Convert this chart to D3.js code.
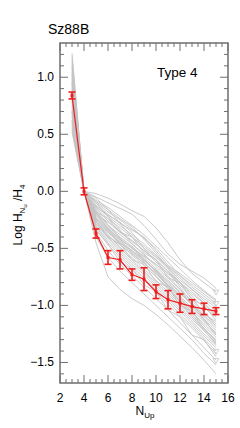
<!DOCTYPE html>
<html lang="en">
<head>
  <meta charset="UTF-8">
  <title>Sz88B Type 4</title>
  <style>
    body { margin: 0; background: #fff; }
    text { font-family: "Liberation Sans", Arial, sans-serif; fill: #000; }
    .tick-label { font-size: 12px; }
  </style>
</head>
<body>
  <svg width="240" height="428"></svg>
  <script src="https://d3js.org/d3.v7.min.js"></script>
  <script>
    const width = 240, height = 428;
    const margin = { top: 43, right: 12, bottom: 45, left: 60 };

    // upper level N for every point
    const nUp = [3, 4, 5, 6, 7, 8, 9, 10, 11, 12, 13, 14, 15];

    // mean curve for this type and its error bars
    const meanValues = [0.84, 0.00, -0.37, -0.58, -0.60, -0.73, -0.77, -0.88, -0.95, -0.98, -1.01, -1.03, -1.05];
    const meanErrors = [0.03, 0.03, 0.04, 0.06, 0.08, 0.05, 0.10, 0.06, 0.08, 0.08, 0.06, 0.05, 0.03];

    // individual decrements (grey lines), one row per spectrum
    const greyCurves = [
      [0.62, 0, -0.02, -0.06, -0.11, -0.17, -0.22, -0.32, -0.45, -0.60, -0.72, -0.80, -0.88],
      [0.70, 0, -0.05, -0.10, -0.15, -0.20, -0.30, -0.42, -0.55, -0.64, -0.70, -0.76, -0.85],
      [0.95, 0, -0.08, -0.14, -0.22, -0.30, -0.38, -0.48, -0.58, -0.68, -0.78, -0.87, -0.95],
      [1.21, 0, -0.10, -0.18, -0.25, -0.33, -0.41, -0.50, -0.62, -0.74, -0.84, -0.92, -1.00],
      [0.80, 0, -0.12, -0.20, -0.28, -0.34, -0.40, -0.52, -0.65, -0.72, -0.80, -0.88, -0.96],
      [1.05, 0, -0.13, -0.22, -0.30, -0.38, -0.46, -0.56, -0.66, -0.76, -0.86, -0.96, -1.05],
      [0.88, 0, -0.15, -0.24, -0.32, -0.40, -0.48, -0.57, -0.68, -0.80, -0.90, -0.98, -1.08],
      [0.58, 0, -0.16, -0.26, -0.35, -0.43, -0.52, -0.60, -0.70, -0.80, -0.92, -1.02, -1.10],
      [1.12, 0, -0.18, -0.24, -0.36, -0.40, -0.54, -0.60, -0.76, -0.80, -0.95, -1.00, -1.13],
      [0.75, 0, -0.18, -0.30, -0.38, -0.46, -0.55, -0.66, -0.76, -0.86, -0.96, -1.06, -1.16],
      [0.98, 0, -0.20, -0.31, -0.40, -0.48, -0.58, -0.68, -0.78, -0.88, -0.99, -1.10, -1.20],
      [0.66, 0, -0.21, -0.32, -0.42, -0.50, -0.60, -0.70, -0.80, -0.92, -1.02, -1.12, -1.22],
      [1.15, 0, -0.22, -0.33, -0.43, -0.52, -0.60, -0.70, -0.82, -0.93, -1.04, -1.14, -1.24],
      [0.86, 0, -0.23, -0.35, -0.45, -0.54, -0.63, -0.72, -0.83, -0.94, -1.06, -1.16, -1.26],
      [0.92, 0, -0.24, -0.36, -0.46, -0.56, -0.65, -0.75, -0.86, -0.96, -1.06, -1.18, -1.28],
      [0.54, 0, -0.25, -0.40, -0.46, -0.60, -0.64, -0.79, -0.84, -1.00, -1.05, -1.21, -1.30],
      [1.02, 0, -0.26, -0.38, -0.49, -0.58, -0.68, -0.78, -0.88, -0.99, -1.10, -1.20, -1.31],
      [0.78, 0, -0.27, -0.40, -0.50, -0.60, -0.70, -0.80, -0.90, -1.01, -1.12, -1.22, -1.33],
      [1.08, 0, -0.28, -0.41, -0.52, -0.62, -0.71, -0.82, -0.92, -1.03, -1.14, -1.25, -1.35],
      [0.70, 0, -0.30, -0.43, -0.54, -0.64, -0.73, -0.84, -0.94, -1.05, -1.16, -1.27, -1.37],
      [0.90, 0, -0.31, -0.45, -0.56, -0.66, -0.76, -0.86, -0.96, -1.08, -1.18, -1.29, -1.40],
      [0.62, 0, -0.33, -0.47, -0.58, -0.68, -0.78, -0.88, -0.99, -1.10, -1.20, -1.31, -1.42],
      [1.00, 0, -0.34, -0.46, -0.62, -0.68, -0.82, -0.88, -1.04, -1.10, -1.26, -1.30, -1.45],
      [0.82, 0, -0.36, -0.52, -0.64, -0.74, -0.84, -0.94, -1.04, -1.15, -1.26, -1.37, -1.48],
      [0.52, 0, -0.40, -0.58, -0.70, -0.80, -0.90, -1.00, -1.10, -1.20, -1.30, -1.42, -1.52],
      [0.94, 0, -0.45, -0.75, -0.86, -0.94, -1.00, -1.08, -1.17, -1.27, -1.37, -1.48, -1.60],
      [0.72, 0, -0.06, -0.16, -0.28, -0.40, -0.50, -0.58, -0.66, -0.74, -0.82, -0.90, -0.98],
      [1.10, 0, -0.14, -0.21, -0.27, -0.36, -0.50, -0.62, -0.72, -0.80, -0.88, -0.98, -1.10],
      [0.85, 0, -0.20, -0.27, -0.36, -0.44, -0.52, -0.60, -0.70, -0.84, -0.98, -1.12, -1.26],
      [0.60, 0, -0.10, -0.22, -0.34, -0.46, -0.56, -0.64, -0.72, -0.82, -0.94, -1.06, -1.18],
      [1.18, 0, -0.17, -0.29, -0.41, -0.50, -0.57, -0.64, -0.74, -0.86, -1.00, -1.13, -1.25],
      [0.96, 0, -0.29, -0.39, -0.47, -0.55, -0.63, -0.72, -0.82, -0.90, -0.98, -1.08, -1.14],
      [0.68, 0, -0.24, -0.34, -0.44, -0.53, -0.61, -0.69, -0.79, -0.89, -1.00, -1.09, -1.18],
      [0.88, 0, -0.19, -0.33, -0.42, -0.49, -0.59, -0.71, -0.84, -0.96, -1.08, -1.20, -1.32],
      [1.04, 0, -0.09, -0.16, -0.24, -0.31, -0.42, -0.54, -0.67, -0.78, -0.86, -0.94, -1.02],
      [0.56, 0, -0.26, -0.36, -0.45, -0.52, -0.62, -0.74, -0.85, -0.97, -1.10, -1.22, -1.34]
    ];
    // rows whose last point is an upper limit (open triangle)
    const limitRows = [0, 20, 23, 26];

    const xTicks = [2, 4, 6, 8, 10, 12, 14, 16];
    const yTicks = [-1.5, -1.0, -0.5, 0.0, 0.5, 1.0];

    const svg = d3.select("svg");

    const x = d3.scaleLinear().domain([2, 16]).range([margin.left, width - margin.right]);
    const y = d3.scaleLinear().domain([-1.68, 1.3]).range([height - margin.bottom, margin.top]);

    const line = d3.line().x((d, i) => x(nUp[i])).y(d => y(d));

    // grey individual curves
    svg.append("g")
      .selectAll("path")
      .data(greyCurves)
      .join("path")
      .attr("d", line)
      .attr("fill", "none")
      .attr("stroke", "#c4c4c4")
      .attr("stroke-width", 0.9);

    svg.append("g")
      .selectAll("path")
      .data(limitRows)
      .join("path")
      .attr("d", d3.symbol().type(d3.symbolTriangle).size(14))
      .attr("transform", d => `translate(${x(nUp[12])},${y(greyCurves[d][12])}) rotate(180)`)
      .attr("fill", "none")
      .attr("stroke", "#c4c4c4")
      .attr("stroke-width", 0.8);

    // red mean curve with error bars
    const red = "#f01c1c";
    svg.append("path")
      .datum(meanValues)
      .attr("d", line)
      .attr("fill", "none")
      .attr("stroke", red)
      .attr("stroke-width", 1.2);

    const eb = svg.append("g")
      .attr("stroke", red)
      .attr("stroke-width", 1.6)
      .selectAll("g")
      .data(meanValues)
      .join("g");
    eb.append("line")
      .attr("x1", (d, i) => x(nUp[i])).attr("x2", (d, i) => x(nUp[i]))
      .attr("y1", (d, i) => y(d + meanErrors[i])).attr("y2", (d, i) => y(d - meanErrors[i]));
    eb.append("line")
      .attr("x1", (d, i) => x(nUp[i]) - 3.5).attr("x2", (d, i) => x(nUp[i]) + 3.5)
      .attr("y1", (d, i) => y(d + meanErrors[i])).attr("y2", (d, i) => y(d + meanErrors[i]));
    eb.append("line")
      .attr("x1", (d, i) => x(nUp[i]) - 3.5).attr("x2", (d, i) => x(nUp[i]) + 3.5)
      .attr("y1", (d, i) => y(d - meanErrors[i])).attr("y2", (d, i) => y(d - meanErrors[i]));

    svg.append("g")
      .selectAll("rect")
      .data(meanValues)
      .join("rect")
      .attr("x", (d, i) => x(nUp[i]) - 1.5)
      .attr("y", d => y(d) - 1.5)
      .attr("width", 3).attr("height", 3)
      .attr("fill", red);

    // frame and ticks
    const frameColor = "#6e6e6e";
    const x0 = margin.left, x1 = width - margin.right;
    const y0 = margin.top, y1 = height - margin.bottom;

    svg.append("rect")
      .attr("x", x0).attr("y", y0)
      .attr("width", x1 - x0).attr("height", y1 - y0)
      .attr("fill", "none")
      .attr("stroke", frameColor)
      .attr("stroke-width", 1.5);

    const tickG = svg.append("g").attr("stroke", frameColor).attr("stroke-width", 1);
    const xMinor = d3.range(2, 16.01, 0.5);
    const yMinor = d3.range(-1.6, 1.21, 0.1).map(v => Math.round(v * 10) / 10);
    const isMajorX = v => Math.abs(v % 2) < 1e-6;
    const isMajorY = v => Math.abs(Math.round(v * 2) - v * 2) < 1e-6;

    xMinor.forEach(v => {
      const len = isMajorX(v) ? 8 : 4;
      tickG.append("line").attr("x1", x(v)).attr("x2", x(v)).attr("y1", y1).attr("y2", y1 - len);
      tickG.append("line").attr("x1", x(v)).attr("x2", x(v)).attr("y1", y0).attr("y2", y0 + len);
    });
    yMinor.forEach(v => {
      const len = isMajorY(v) ? 8 : 4;
      tickG.append("line").attr("x1", x0).attr("x2", x0 + len).attr("y1", y(v)).attr("y2", y(v));
      tickG.append("line").attr("x1", x1).attr("x2", x1 - len).attr("y1", y(v)).attr("y2", y(v));
    });

    svg.append("g")
      .selectAll("text")
      .data(xTicks)
      .join("text")
      .attr("class", "tick-label")
      .attr("x", d => x(d))
      .attr("y", y1 + 19)
      .attr("text-anchor", "middle")
      .text(d => d);

    svg.append("g")
      .selectAll("text")
      .data(yTicks)
      .join("text")
      .attr("class", "tick-label")
      .attr("x", x0 - 6)
      .attr("y", d => y(d) + 4)
      .attr("text-anchor", "end")
      .text(d => d3.format(".1f")(d).replace("-", "\u2212"));

    // titles
    svg.append("text")
      .attr("x", 48).attr("y", 34)
      .style("font-size", "14px")
      .text("Sz88B");

    svg.append("text")
      .attr("x", 157).attr("y", 77)
      .style("font-size", "13.5px")
      .text("Type 4");

    const xl = svg.append("text")
      .attr("x", 145).attr("y", 415)
      .attr("text-anchor", "middle")
      .style("font-size", "12px");
    xl.append("tspan").text("N");
    xl.append("tspan").attr("dy", 3).style("font-size", "8px").text("Up");

    const yl = svg.append("text")
      .attr("transform", "translate(22,215) rotate(-90)")
      .attr("text-anchor", "middle")
      .style("font-size", "12px");
    yl.append("tspan").text("Log H");
    yl.append("tspan").attr("dy", 3).style("font-size", "8px").text("N");
    yl.append("tspan").attr("dy", 2).style("font-size", "6px").text("u");
    yl.append("tspan").attr("dy", -5).text(" /H");
    yl.append("tspan").attr("dy", 3).style("font-size", "8px").text("4");
  </script>
</body>
</html>
